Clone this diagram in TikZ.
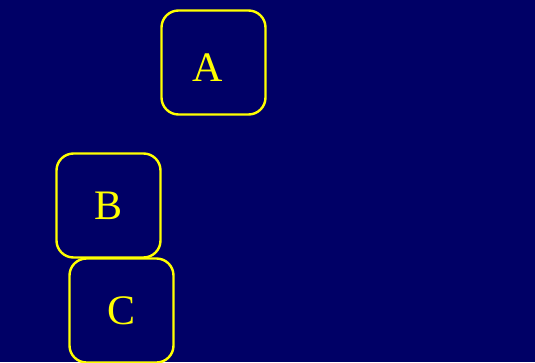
\documentclass[tikz,border=0pt]{standalone}
\usepackage{fontspec}
\setmainfont{Liberation Serif}
\definecolor{navy}{HTML}{000066}
\definecolor{yel}{HTML}{FFFF00}
\begin{document}
\begin{tikzpicture}[x=1pt,y=-1pt,
  box/.style={draw=yel,line width=2.4pt,rounded corners=17pt,minimum width=104pt,minimum height=104pt,inner sep=0pt,text=yel,font=\fontsize{42}{42}\selectfont}]
\fill[navy] (0,0) rectangle (535,362);
\useasboundingbox (0,0) rectangle (535,362);
\node[box] (A) at (213.5,62.5) {\raisebox{-5pt}[\height][\depth]{\hbox{\kern-12pt A}}};
\node[box] (B) at (108.5,205.5) {B};
\node[box] (C) at (121.5,310.5) {C};
\end{tikzpicture}
\end{document}
